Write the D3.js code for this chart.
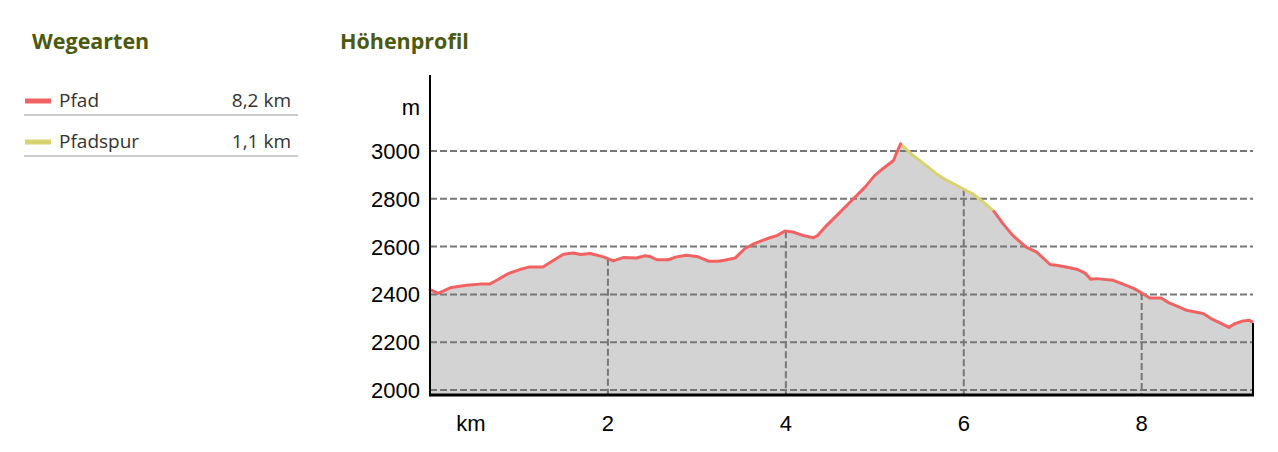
<!DOCTYPE html>
<html>
<head>
<meta charset="utf-8">
<script src="https://cdn.jsdelivr.net/npm/d3@7"></script>
<style>
  html, body { margin: 0; padding: 0; background: #fff; }
  svg { display: block; }
</style>
</head>
<body>
<svg id="chart" width="1278" height="452"></svg>
<script>
// ---- data ----
const distanceKm = [0.00,0.02,0.09,0.24,0.41,0.56,0.67,0.75,0.88,1.01,1.12,1.27,1.39,1.50,1.61,1.69,1.80,1.95,2.06,2.17,2.32,2.42,2.47,2.55,2.68,2.77,2.88,3.00,3.13,3.24,3.31,3.43,3.54,3.63,3.74,3.82,3.90,3.99,4.08,4.19,4.31,4.36,4.46,4.61,4.74,4.89,5.00,5.09,5.21,5.24,5.29,5.43,5.58,5.69,5.81,5.99,6.10,6.22,6.34,6.44,6.55,6.70,6.82,6.97,7.04,7.15,7.28,7.36,7.43,7.49,7.68,7.79,7.91,8.00,8.09,8.22,8.30,8.39,8.50,8.69,8.78,8.88,8.98,9.04,9.14,9.21,9.24];
const elevationM = [2420,2417,2404,2429,2438,2443,2443,2459,2487,2504,2515,2515,2543,2568,2573,2567,2571,2557,2540,2554,2552,2562,2559,2545,2545,2557,2564,2559,2539,2539,2543,2552,2592,2610,2626,2637,2646,2665,2661,2647,2637,2647,2689,2744,2793,2849,2898,2926,2960,2988,3030,2981,2939,2905,2877,2842,2821,2786,2747,2696,2647,2598,2577,2525,2522,2515,2504,2490,2463,2466,2459,2443,2425,2406,2385,2385,2366,2352,2334,2320,2299,2281,2262,2276,2289,2292,2285];
const wayTypes = ["Pfad", "Pfadspur"];
const wayLengths = ["8,2 km", "1,1 km"];
const wayColors = ["#f26262", "#d8d371"];
const pfadspurRange = [5.29, 6.34];
const yTicks = [2000, 2200, 2400, 2600, 2800, 3000];
const xTicks = [2, 4, 6, 8];
const yUnit = "m";
const xUnit = "km";

// ---- layout ----
const svg = d3.select("#chart");
const pLeft = 430, pRight = 1252, pTop = 75, pBottom = 395;
const x = d3.scaleLinear().domain([0, 9.24]).range([pLeft, pRight]);
const y = d3.scaleLinear().domain([2000, 3000]).range([390, 151]);
const yBottom = y.invert(pBottom);

const titleColor = "#4b5a0e";
const titleFont = "'Open Sans', sans-serif";

svg.append("text").attr("x", 32).attr("y", 49).text("Wegearten")
  .attr("font-family", titleFont).attr("font-weight", 700).attr("font-size", 21.5).attr("fill", titleColor);
svg.append("text").attr("x", 340).attr("y", 49).text("Höhenprofil")
  .attr("font-family", titleFont).attr("font-weight", 700).attr("font-size", 21.5).attr("fill", titleColor);

// legend
const legendY = d3.scaleBand().domain(wayTypes).range([82, 164]);
wayTypes.forEach((t, i) => {
  const yc = legendY(t) + 19;
  svg.append("line").attr("x1", 25).attr("x2", 51).attr("y1", yc).attr("y2", yc)
    .attr("stroke", wayColors[i]).attr("stroke-width", 5);
  svg.append("text").attr("x", 59).attr("y", yc + 6).text(t)
    .attr("font-family", titleFont).attr("font-size", 19).attr("fill", "#333");
  svg.append("text").attr("x", 291).attr("y", yc + 6).text(wayLengths[i]).attr("text-anchor", "end")
    .attr("font-family", titleFont).attr("font-size", 19).attr("fill", "#333");
  svg.append("line").attr("x1", 24).attr("x2", 298).attr("y1", yc + 14).attr("y2", yc + 14)
    .attr("stroke", "#999").attr("stroke-width", 1.2);
});

const pts = distanceKm.map((d, i) => ({ km: d, ele: elevationM[i] }));

const area = d3.area().x(d => x(d.km)).y0(y(yBottom)).y1(d => y(d.ele));
svg.append("path").datum(pts).attr("d", area).attr("fill", "#d3d3d3");

const interp = km => {
  const i = d3.bisector(d => d.km).left(pts, km);
  const a = pts[i - 1], b = pts[i];
  const t = (km - a.km) / (b.km - a.km);
  return a.ele + t * (b.ele - a.ele);
};
xTicks.forEach(k => {
  svg.append("line").attr("x1", x(k)).attr("x2", x(k)).attr("y1", y(interp(k))).attr("y2", pBottom)
    .attr("stroke", "#777").attr("stroke-width", 2).attr("stroke-dasharray", "7,3");
});

yTicks.forEach(v => {
  svg.append("line").attr("x1", pLeft).attr("x2", pRight + 1).attr("y1", y(v)).attr("y2", y(v))
    .attr("stroke", "#777").attr("stroke-width", 2).attr("stroke-dasharray", "7,3");
});

const line = d3.line().x(d => x(d.km)).y(d => y(d.ele));
const pfadA = pts.filter(d => d.km <= pfadspurRange[0]);
const spur = pts.filter(d => d.km >= pfadspurRange[0] && d.km <= pfadspurRange[1]);
const pfadB = pts.filter(d => d.km >= pfadspurRange[1]);
svg.append("path").datum(spur).attr("d", line).attr("fill", "none")
  .attr("stroke", wayColors[1]).attr("stroke-width", 3).attr("stroke-linejoin", "round");
[pfadA, pfadB].forEach(seg => {
  svg.append("path").datum(seg).attr("d", line).attr("fill", "none")
    .attr("stroke", wayColors[0]).attr("stroke-width", 3).attr("stroke-linejoin", "round").attr("stroke-linecap", "round");
});

const last = pts[pts.length - 1];
svg.append("line").attr("x1", x(last.km) + 1).attr("x2", x(last.km) + 1).attr("y1", y(last.ele) + 1).attr("y2", pBottom)
  .attr("stroke", "#000").attr("stroke-width", 2);

svg.append("line").attr("x1", pLeft).attr("x2", pLeft).attr("y1", pTop).attr("y2", pBottom + 1.5)
  .attr("stroke", "#000").attr("stroke-width", 2);
svg.append("line").attr("x1", pLeft).attr("x2", pRight + 2).attr("y1", pBottom).attr("y2", pBottom)
  .attr("stroke", "#000").attr("stroke-width", 3);

const axisFont = "'Liberation Sans', Arial, sans-serif";
yTicks.forEach(v => {
  svg.append("text").attr("x", 420).attr("y", y(v) + 8).text(v).attr("text-anchor", "end")
    .attr("font-family", axisFont).attr("font-size", 22).attr("fill", "#000");
});
svg.append("text").attr("x", 420).attr("y", y(3200) + 12).text(yUnit).attr("text-anchor", "end")
  .attr("font-family", axisFont).attr("font-size", 22).attr("fill", "#000");

xTicks.forEach(k => {
  svg.append("text").attr("x", x(k)).attr("y", 431).text(k).attr("text-anchor", "middle")
    .attr("font-family", axisFont).attr("font-size", 22).attr("fill", "#000");
});
svg.append("text").attr("x", x(0.46)).attr("y", 431).text(xUnit).attr("text-anchor", "middle")
  .attr("font-family", axisFont).attr("font-size", 22).attr("fill", "#000");
</script>
</body>
</html>
